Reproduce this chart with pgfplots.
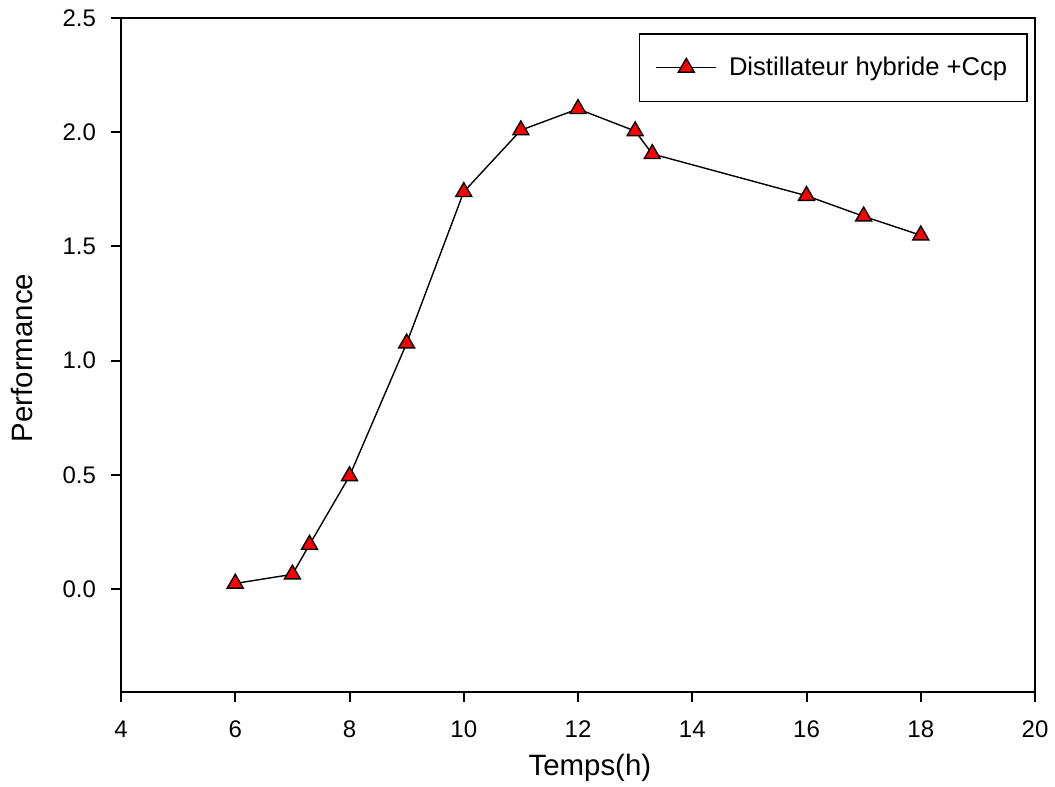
\documentclass[border=0pt]{standalone}
\usepackage{pgfplots}
\pgfplotsset{compat=1.18}
\usepackage{fontspec}
\setmainfont{Liberation Sans}

\begin{document}
\begin{tikzpicture}
\begin{axis}[
  at={(0,0)}, anchor=south west,
  scale only axis,
  width=457pt, height=337pt,
  xmin=4, xmax=20, ymin=-0.45, ymax=2.5,
  xtick={4,6,...,20},
  ytick={0,0.5,1,1.5,2,2.5},
  yticklabel style={xshift=-4pt, /pgf/number format/fixed,
    /pgf/number format/fixed zerofill, /pgf/number format/precision=1},
  /pgf/number format/assume math mode=true,
  tick label style={font=\fontsize{12}{14}\selectfont},
  xticklabel style={yshift=-6pt},
  xlabel={Temps(h)}, ylabel={Performance},
  label style={font=\fontsize{14.7}{17}\selectfont, inner sep=0pt},
  xlabel style={at={(axis description cs:0.513,-0.1246)}, anchor=base},
  ylabel style={at={(axis description cs:-0.0963,0.4955)}, anchor=south},
  tick align=outside, tick pos=left,
  major tick length=5pt,
  axis line style={line width=1pt},
  major tick style={line width=1pt, black},
  legend style={at={(0.9923,0.9777)}, anchor=north east, draw=black, line width=0.8pt,
    font=\fontsize{12.8}{14}\selectfont, inner xsep=8pt, inner ysep=9.5pt,
    /tikz/every odd column/.style={column sep=4pt}},
  legend image code/.code={
    \draw[#1, mark repeat=2, mark phase=2] plot coordinates {(0pt,0pt) (15pt,0pt) (30pt,0pt)};
  },
  legend cell align=left,
]
\addplot[black, line width=0.7pt, mark=triangle*, mark size=4.6pt,
  mark options={fill=red, draw=black, line width=0.7pt}] coordinates {
  (6,0.025) (7,0.065) (7.3,0.195) (8,0.495) (9,1.076) (10,1.739)
  (11,2.009) (12,2.102) (13,2.005) (13.3,1.905) (16,1.722) (17,1.632) (18,1.549)
};
\addlegendentry{Distillateur hybride +Ccp}
\end{axis}
\pgfresetboundingbox
\path[use as bounding box] (-60.5pt,-47.5pt) rectangle (467pt,346pt);
\end{tikzpicture}
\end{document}
